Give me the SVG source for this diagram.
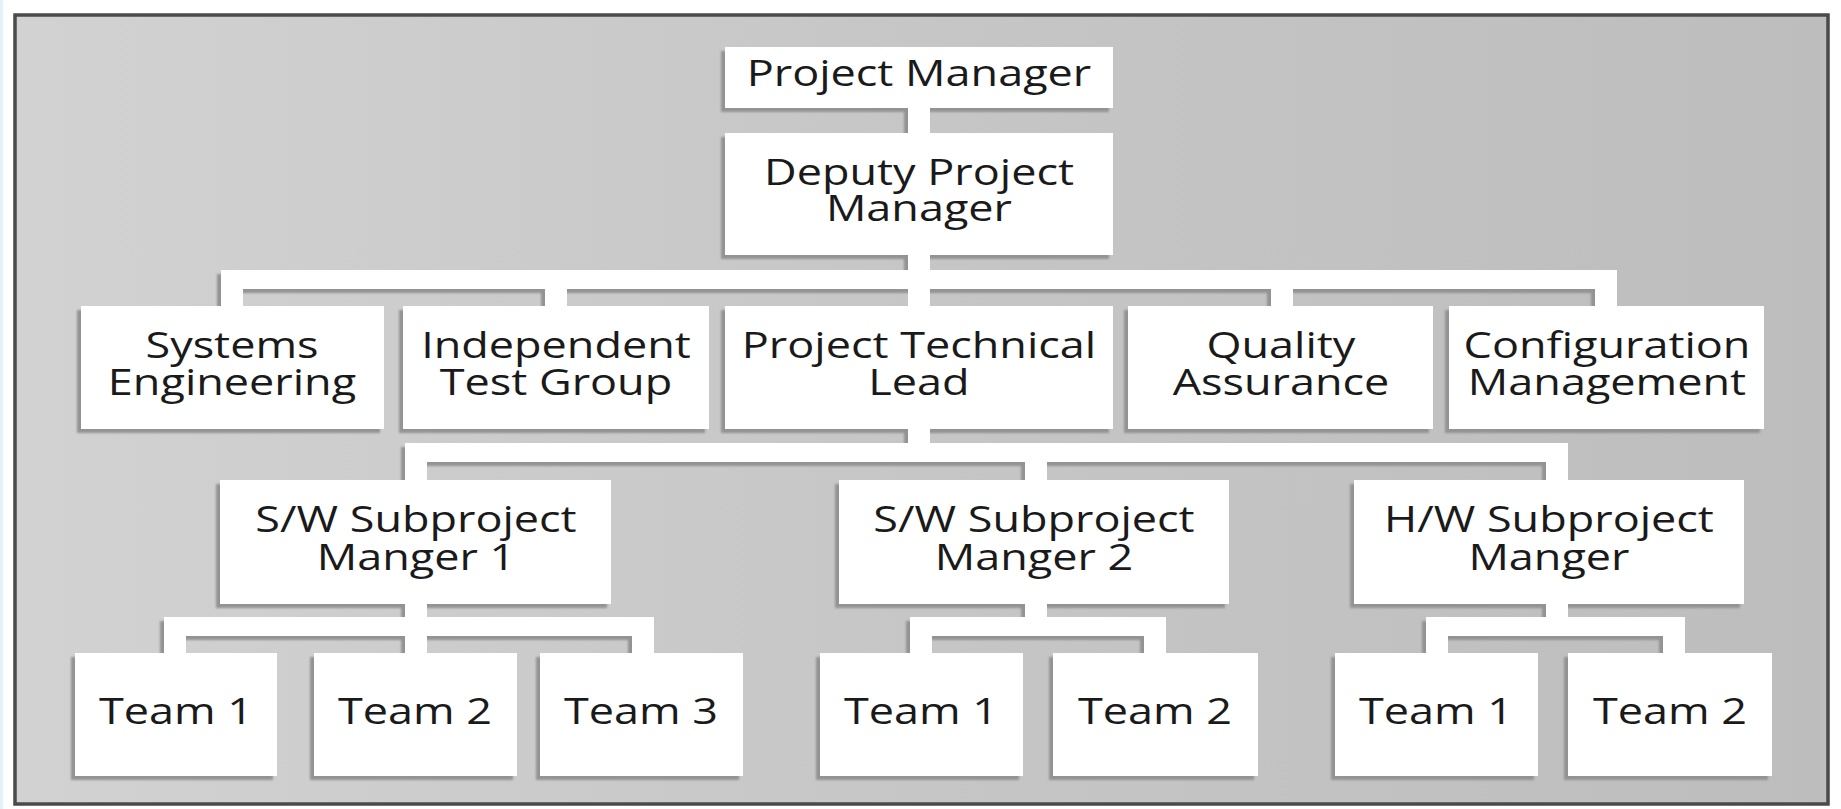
<svg xmlns="http://www.w3.org/2000/svg" width="1841" height="809" viewBox="0 0 1841 809">
<style>
  .box { fill: #ffffff; }
  .sh { fill: #939393; }
  .con { fill: #ffffff; }
  text { font-family: "Open Sans", "Noto Sans", "DejaVu Sans", sans-serif; font-size: 36px; font-weight: 500; fill: #1a1a1a; text-anchor: middle; transform-box: fill-box; transform-origin: center; transform: scaleX(1.25); }
</style>
<defs>
  <linearGradient id="bg" x1="0" y1="0" x2="1" y2="0">
    <stop offset="0" stop-color="#d2d2d2"/>
    <stop offset="0.5" stop-color="#c6c6c6"/>
    <stop offset="1" stop-color="#bdbdbd"/>
  </linearGradient>
  <filter id="blur" x="-5%" y="-5%" width="110%" height="110%">
    <feGaussianBlur stdDeviation="0.8"/>
  </filter>
</defs>
<rect x="0" y="0" width="1841" height="809" fill="#ffffff"/>
<rect x="0" y="0" width="3" height="809" fill="#e2f1fc"/>
<rect id="frame" x="15" y="15" width="1813" height="789" fill="url(#bg)" stroke="#4a4a4a" stroke-width="3.5"/>

<g id="shadows" class="sh" filter="url(#blur)" transform="translate(-4 4)">
  <rect x="725" y="47" width="388" height="61"/>
  <rect x="725" y="133" width="388" height="122"/>
  <rect x="81" y="306" width="303" height="123"/>
  <rect x="403" y="306" width="306" height="123"/>
  <rect x="725" y="306" width="388" height="123"/>
  <rect x="1128" y="306" width="305" height="123"/>
  <rect x="1449" y="306" width="315" height="123"/>
  <rect x="220" y="480" width="391" height="124"/>
  <rect x="839" y="480" width="390" height="124"/>
  <rect x="1354" y="480" width="390" height="124"/>
  <rect x="75" y="653" width="202" height="123"/>
  <rect x="314" y="653" width="203" height="123"/>
  <rect x="540" y="653" width="203" height="123"/>
  <rect x="820" y="653" width="203" height="123"/>
  <rect x="1053" y="653" width="205" height="123"/>
  <rect x="1335" y="653" width="203" height="123"/>
  <rect x="1568" y="653" width="204" height="123"/>
  <rect x="908" y="107" width="22" height="27"/>
  <rect x="908" y="254" width="22" height="35"/>
  <rect x="221" y="270" width="1396" height="19"/>
  <rect x="221" y="270" width="22" height="37"/>
  <rect x="545" y="270" width="22" height="37"/>
  <rect x="1271" y="270" width="22" height="37"/>
  <rect x="1595" y="270" width="22" height="37"/>
  <rect x="908" y="428" width="22" height="34"/>
  <rect x="405" y="443" width="1163" height="19"/>
  <rect x="405" y="443" width="22" height="38"/>
  <rect x="1025" y="443" width="22" height="38"/>
  <rect x="1546" y="443" width="22" height="38"/>
  <rect x="405" y="603" width="22" height="51"/>
  <rect x="164" y="617" width="490" height="19"/>
  <rect x="164" y="617" width="22" height="37"/>
  <rect x="632" y="617" width="22" height="37"/>
  <rect x="1025" y="603" width="22" height="33"/>
  <rect x="910" y="617" width="256" height="19"/>
  <rect x="910" y="617" width="22" height="37"/>
  <rect x="1144" y="617" width="22" height="37"/>
  <rect x="1546" y="603" width="22" height="33"/>
  <rect x="1426" y="617" width="259" height="19"/>
  <rect x="1426" y="617" width="22" height="37"/>
  <rect x="1663" y="617" width="22" height="37"/>
</g>

<g id="connectors" class="con">
  <rect x="908" y="107" width="22" height="27"/>
  <rect x="908" y="254" width="22" height="35"/>
  <rect x="221" y="270" width="1396" height="19"/>
  <rect x="221" y="270" width="22" height="37"/>
  <rect x="545" y="270" width="22" height="37"/>
  <rect x="908" y="270" width="22" height="37"/>
  <rect x="1271" y="270" width="22" height="37"/>
  <rect x="1595" y="270" width="22" height="37"/>
  <rect x="908" y="428" width="22" height="34"/>
  <rect x="405" y="443" width="1163" height="19"/>
  <rect x="405" y="443" width="22" height="38"/>
  <rect x="1025" y="443" width="22" height="38"/>
  <rect x="1546" y="443" width="22" height="38"/>
  <rect x="405" y="603" width="22" height="51"/>
  <rect x="164" y="617" width="490" height="19"/>
  <rect x="164" y="617" width="22" height="37"/>
  <rect x="632" y="617" width="22" height="37"/>
  <rect x="1025" y="603" width="22" height="33"/>
  <rect x="910" y="617" width="256" height="19"/>
  <rect x="910" y="617" width="22" height="37"/>
  <rect x="1144" y="617" width="22" height="37"/>
  <rect x="1546" y="603" width="22" height="33"/>
  <rect x="1426" y="617" width="259" height="19"/>
  <rect x="1426" y="617" width="22" height="37"/>
  <rect x="1663" y="617" width="22" height="37"/>
</g>

<g id="project-manager">
  <rect class="box" x="725" y="47" width="388" height="61"/>
  <text x="919" y="86">Project Manager</text>
</g>
<g id="deputy-project-manager">
  <rect class="box" x="725" y="133" width="388" height="122"/>
  <text x="919" y="185">Deputy Project</text>
  <text x="919" y="221">Manager</text>
</g>
<g id="systems-engineering">
  <rect class="box" x="81" y="306" width="303" height="123"/>
  <text x="232" y="358">Systems</text>
  <text x="232" y="395">Engineering</text>
</g>
<g id="independent-test-group">
  <rect class="box" x="403" y="306" width="306" height="123"/>
  <text x="556" y="358">Independent</text>
  <text x="556" y="395">Test Group</text>
</g>
<g id="project-technical-lead">
  <rect class="box" x="725" y="306" width="388" height="123"/>
  <text x="919" y="358">Project Technical</text>
  <text x="919" y="395">Lead</text>
</g>
<g id="quality-assurance">
  <rect class="box" x="1128" y="306" width="305" height="123"/>
  <text x="1281" y="358">Quality</text>
  <text x="1281" y="395">Assurance</text>
</g>
<g id="configuration-management">
  <rect class="box" x="1449" y="306" width="315" height="123"/>
  <text x="1607" y="358">Configuration</text>
  <text x="1607" y="395">Management</text>
</g>
<g id="sw-subproject-manager-1">
  <rect class="box" x="220" y="480" width="391" height="124"/>
  <text x="416" y="532">S/W Subproject</text>
  <text x="416" y="570">Manger 1</text>
</g>
<g id="sw-subproject-manager-2">
  <rect class="box" x="839" y="480" width="390" height="124"/>
  <text x="1034" y="532">S/W Subproject</text>
  <text x="1034" y="570">Manger 2</text>
</g>
<g id="hw-subproject-manager">
  <rect class="box" x="1354" y="480" width="390" height="124"/>
  <text x="1549" y="532">H/W Subproject</text>
  <text x="1549" y="570">Manger</text>
</g>
<g id="sw1-team-1">
  <rect class="box" x="75" y="653" width="202" height="123"/>
  <text x="176" y="724">Team 1</text>
</g>
<g id="sw1-team-2">
  <rect class="box" x="314" y="653" width="203" height="123"/>
  <text x="415" y="724">Team 2</text>
</g>
<g id="sw1-team-3">
  <rect class="box" x="540" y="653" width="203" height="123"/>
  <text x="641" y="724">Team 3</text>
</g>
<g id="sw2-team-1">
  <rect class="box" x="820" y="653" width="203" height="123"/>
  <text x="921" y="724">Team 1</text>
</g>
<g id="sw2-team-2">
  <rect class="box" x="1053" y="653" width="205" height="123"/>
  <text x="1155" y="724">Team 2</text>
</g>
<g id="hw-team-1">
  <rect class="box" x="1335" y="653" width="203" height="123"/>
  <text x="1436" y="724">Team 1</text>
</g>
<g id="hw-team-2">
  <rect class="box" x="1568" y="653" width="204" height="123"/>
  <text x="1670" y="724">Team 2</text>
</g>
</svg>
